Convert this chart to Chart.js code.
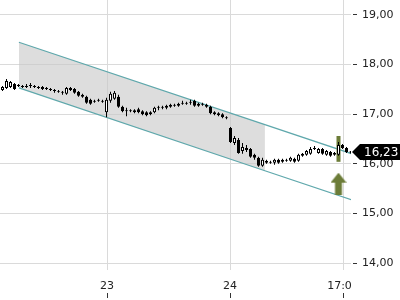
<!DOCTYPE html>
<html>
<head>
<meta charset="utf-8">
<script src="https://cdn.jsdelivr.net/npm/chart.js@4/dist/chart.umd.min.js"></script>
<style>
html, body { margin: 0; padding: 0; background: #fff; }
</style>
</head>
<body>
<canvas id="c" width="400" height="300"></canvas>
<script>
// --- candles (one per slot, left to right) ---
const openP  = [17.49,17.53,17.55,17.61,17.57,17.57,17.55,17.57,17.57,17.55,
                17.55,17.51,17.51,17.49,17.47,17.45,17.41,17.49,17.51,17.45,
                17.39,17.35,17.29,17.25,17.27,17.27,17.04,17.27,17.31,17.35,
                17.15,17.08,17.06,17.04,17.10,17.06,17.04,17.00,17.04,17.13,
                17.15,17.13,17.15,17.19,17.17,17.21,17.21,17.23,17.27,17.17,
                17.21,17.19,17.15,17.04,17.02,17.00,16.94,16.72,16.42,16.48,
                16.26,16.32,16.30,16.18,16.12,15.96,16.06,16.04,16.02,16.08,
                16.04,16.06,16.06,16.10,16.06,16.16,16.18,16.20,16.30,16.22,
                16.30,16.18,16.24,16.18,16.18,16.38,16.32,16.25];
const closeP = [17.55,17.67,17.65,17.51,17.59,17.55,17.57,17.59,17.55,17.53,
                17.51,17.53,17.49,17.47,17.45,17.43,17.53,17.53,17.43,17.37,
                17.35,17.23,17.21,17.27,17.29,17.25,17.29,17.41,17.43,17.15,
                17.06,17.06,17.08,17.08,17.04,17.00,16.98,17.04,17.13,17.15,
                17.13,17.17,17.19,17.17,17.21,17.23,17.23,17.25,17.17,17.21,
                17.19,17.15,17.02,17.00,16.98,16.94,16.92,16.44,16.52,16.22,
                16.34,16.28,16.14,16.12,15.96,16.08,16.02,16.02,16.08,16.02,
                16.08,16.08,16.12,16.04,16.18,16.20,16.26,16.30,16.32,16.30,
                16.20,16.26,16.16,16.22,16.38,16.32,16.24,16.23];
const highP  = [17.57,17.71,17.67,17.63,17.61,17.59,17.61,17.63,17.59,17.57,
                17.57,17.55,17.53,17.51,17.49,17.47,17.55,17.55,17.53,17.47,
                17.41,17.37,17.31,17.29,17.31,17.29,17.33,17.45,17.47,17.39,
                17.17,17.13,17.10,17.10,17.13,17.08,17.06,17.06,17.15,17.17,
                17.17,17.19,17.21,17.21,17.23,17.27,17.25,17.29,17.29,17.23,
                17.23,17.21,17.17,17.06,17.04,17.02,16.96,16.74,16.56,16.52,
                16.42,16.38,16.32,16.20,16.14,16.12,16.08,16.06,16.10,16.10,
                16.10,16.10,16.14,16.12,16.20,16.22,16.28,16.34,16.36,16.32,
                16.32,16.28,16.26,16.24,16.44,16.40,16.34,16.26];
const lowP   = [17.47,17.51,17.53,17.49,17.55,17.53,17.53,17.53,17.53,17.51,
                17.49,17.49,17.47,17.43,17.43,17.39,17.39,17.47,17.41,17.35,
                17.33,17.21,17.19,17.23,17.25,17.23,16.94,17.23,17.29,17.13,
                17.04,16.96,17.04,17.02,17.02,16.98,16.96,16.98,17.02,17.08,
                17.10,17.10,17.13,17.15,17.15,17.19,17.19,17.19,17.15,17.15,
                17.17,17.13,17.00,16.98,16.96,16.92,16.90,16.42,16.38,16.20,
                16.20,16.24,16.12,16.08,15.94,15.94,16.00,16.00,15.98,16.00,
                16.02,16.04,16.04,16.02,16.04,16.14,16.16,16.18,16.28,16.20,
                16.18,16.16,16.14,16.16,16.16,16.30,16.22,16.21];

// --- x axis labels (slot position) ---
const xTickPos    = [26.125, 56.875, 85.125];
const xTickLabels = ['23', '24', '17:00'];
const yTicks      = [14, 15, 16, 17, 18, 19];

// --- trend channel ---
const chanX     = [4.1, 65.6, 87.4];
const chanUpper = [18.45, 16.79, 16.20];
const chanLower = [17.53, 15.86, 15.27];

// --- signal (highlighted candle + arrow) ---
const signalX    = 84;
const signalBar  = [16.04, 16.56];
const signalArrY = 15.60;

const OLIVE = '#6c7c38';

// arrow image for the signal point
const arrowImg = document.createElement('canvas');
arrowImg.width = 16; arrowImg.height = 22;
(function () {
    const a = arrowImg.getContext('2d');
    a.fillStyle = OLIVE;
    a.beginPath();
    a.moveTo(8, 0); a.lineTo(16, 10); a.lineTo(11.5, 10); a.lineTo(11.5, 22);
    a.lineTo(4.5, 22); a.lineTo(4.5, 10); a.lineTo(0, 10);
    a.closePath(); a.fill();
})();

const pts = (xs, ys) => xs.map((x, i) => ({ x: x, y: ys[i] }));

const overlay = {
    id: 'overlay',
    afterDraw(chart) {
        const { ctx, chartArea, scales: { x, y } } = chart;
        ctx.save();
        // last x label is cut at the plot edge
        ctx.fillStyle = '#fff';
        ctx.fillRect(chartArea.right, chartArea.bottom + 1, chart.width - chartArea.right, chart.height - chartArea.bottom);
        // short marks under the x labels
        ctx.strokeStyle = '#333';
        ctx.lineWidth = 1;
        xTickPos.forEach(v => {
            const px = Math.round(x.getPixelForValue(v)) + 0.5;
            ctx.beginPath();
            ctx.moveTo(px, chartArea.bottom + 23);
            ctx.lineTo(px, chartArea.bottom + 28);
            ctx.stroke();
        });
        // price tag for the last close
        const last = closeP[closeP.length - 1];
        const py = Math.round(y.getPixelForValue(last));
        const x0 = chartArea.right + 1;
        ctx.fillStyle = '#000';
        ctx.beginPath();
        ctx.moveTo(x0, py);
        ctx.lineTo(x0 + 8, py - 8);
        ctx.lineTo(chart.width, py - 8);
        ctx.lineTo(chart.width, py + 8);
        ctx.lineTo(x0 + 8, py + 8);
        ctx.closePath();
        ctx.fill();
        ctx.fillStyle = '#fff';
        ctx.font = '12px "DejaVu Sans"';
        ctx.textBaseline = 'middle';
        ctx.fillText(last.toFixed(2).replace('.', ','), x0 + 12, py + 1);
        ctx.restore();
    }
};

Chart.defaults.font.family = "'DejaVu Sans', sans-serif";
Chart.defaults.font.size = 11;
Chart.defaults.color = '#222';

new Chart(document.getElementById('c'), {
    type: 'bar',
    data: {
        datasets: [
            {   // candle bodies
                type: 'bar',
                order: 1,
                data: openP.map((o, i) => ({ x: i, y: [o, closeP[i]] })),
                backgroundColor: openP.map((o, i) => closeP[i] >= o ? '#fff' : '#000'),
                borderColor: '#000',
                borderWidth: 1,
                borderSkipped: false,
                barThickness: 3,
                grouped: false,
                inflateAmount: 0,
            },
            {   // wicks
                type: 'bar',
                order: 2,
                data: lowP.map((l, i) => ({ x: i, y: [l, highP[i]] })),
                backgroundColor: '#000',
                borderWidth: 0,
                barThickness: 1,
                grouped: false,
                inflateAmount: 0,
            },
            {   // highlighted signal candle
                type: 'bar',
                order: 3,
                data: [{ x: signalX, y: signalBar }],
                backgroundColor: OLIVE,
                borderWidth: 0,
                barThickness: 4,
                grouped: false,
                inflateAmount: 0,
            },
            {   // arrow
                type: 'line',
                order: 0,
                data: [{ x: signalX, y: signalArrY }],
                showLine: false,
                pointStyle: arrowImg,
                pointRadius: 8,
            },
            {   // channel upper
                type: 'line',
                order: 4,
                data: pts(chanX, chanUpper),
                borderColor: '#5fa8ac',
                borderWidth: 1.2,
                pointRadius: 0,
                fill: false,
            },
            {   // channel lower
                type: 'line',
                order: 4,
                data: pts(chanX, chanLower),
                borderColor: '#5fa8ac',
                borderWidth: 1.2,
                pointRadius: 0,
                fill: false,
            },
            {   // gray channel area (top edge)
                type: 'line',
                order: 5,
                data: pts(chanX.slice(0, 2), chanUpper.slice(0, 2)),
                borderColor: 'transparent',
                backgroundColor: 'rgba(200,200,200,0.62)',
                pointRadius: 0,
                fill: '+1',
            },
            {   // gray channel area (bottom edge)
                type: 'line',
                order: 5,
                data: pts(chanX.slice(0, 2), chanLower.slice(0, 2)),
                borderColor: 'transparent',
                pointRadius: 0,
                fill: false,
            },
        ]
    },
    options: {
        responsive: false,
        animation: false,
        layout: { padding: 0, autoPadding: false },
        plugins: {
            legend: { display: false },
            tooltip: { enabled: false },
        },
        scales: {
            x: {
                type: 'linear',
                min: -0.625,
                max: 87.125,
                offset: false,
                border: { display: false },
                grid: { color: '#dadada', drawTicks: false, offset: false },
                ticks: {
                    padding: 10,
                    autoSkip: false,
                    maxRotation: 0,
                    callback: (v, i) => xTickLabels[i],
                },
                afterBuildTicks: s => { s.ticks = xTickPos.map(v => ({ value: v })); },
                afterFit: s => { s.height = 30; s.paddingLeft = 0; s.paddingRight = 0; },
            },
            y: {
                position: 'right',
                min: 13.859,
                max: 19.302,
                border: { display: false },
                grid: {
                    color: '#dadada',
                    tickColor: '#333',
                    tickLength: 6,
                    tickBorderDash: [0, 2, 4, 10],
                },
                ticks: {
                    padding: 5,
                    callback: v => v.toFixed(2).replace('.', ','),
                },
                afterBuildTicks: s => { s.ticks = yTicks.map(v => ({ value: v })); },
                afterFit: s => { s.width = 49; s.paddingTop = 0; s.paddingBottom = 0; },
            }
        }
    },
    plugins: [overlay]
});
</script>
</body>
</html>
